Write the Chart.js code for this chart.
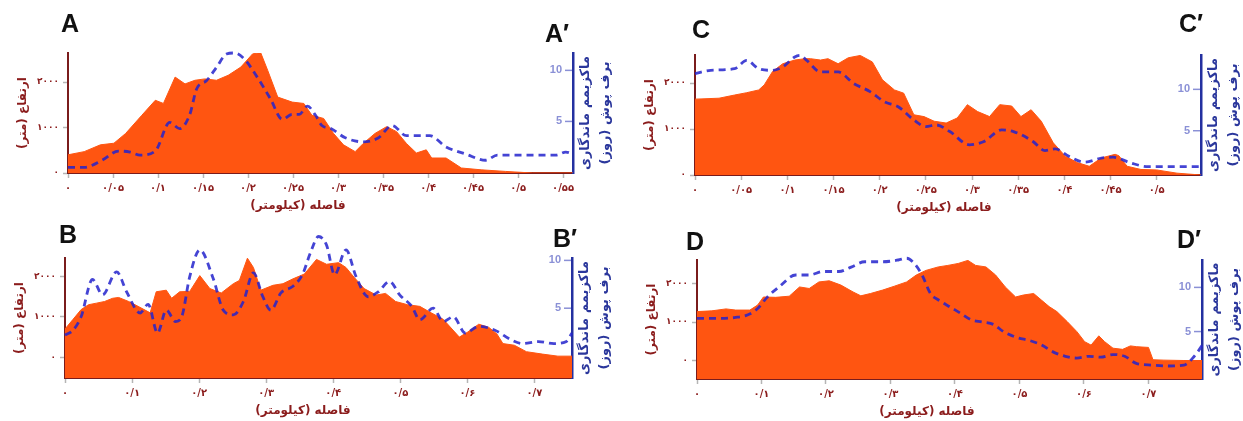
<!DOCTYPE html>
<html lang="fa">
<head>
<meta charset="utf-8">
<script src="https://cdn.jsdelivr.net/npm/chart.js@4.4.1/dist/chart.umd.min.js"></script>
<style>
  html, body { margin: 0; padding: 0; background: #fff; }
  body { width: 1243px; height: 421px; position: relative; overflow: hidden; }
  .panel { position: absolute; }
  .panel canvas { direction: rtl; }
  .tag { position: absolute; font: bold 25px "Liberation Sans", Arial, sans-serif; line-height: 25px; color: #111; }
</style>
</head>
<body>
<div class="panel" id="panelA"><canvas id="chartA"></canvas></div>
<div class="panel" id="panelC"><canvas id="chartC"></canvas></div>
<div class="panel" id="panelB"><canvas id="chartB"></canvas></div>
<div class="panel" id="panelD"><canvas id="chartD"></canvas></div>

<div class="tag" style="left:61px;top:11px">A</div>
<div class="tag" style="left:545px;top:21px">A′</div>
<div class="tag" style="left:692px;top:17px">C</div>
<div class="tag" style="left:1179px;top:11px">C′</div>
<div class="tag" style="left:59px;top:222px">B</div>
<div class="tag" style="left:553px;top:226px">B′</div>
<div class="tag" style="left:686px;top:229px">D</div>
<div class="tag" style="left:1177px;top:227px">D′</div>

<script>
// Axis titles
const xTitle = 'فاصله (کیلومتر)';
const elevTitle = 'ارتفاع (متر)';
const snowTitle = ['ماکزیمم ماندگاری', 'برف پوش (روز)'];

// Tick labels
const elevTicks = [0, 1000, 2000];
const snowTicks = [5, 10];
const xTicksA = [0, 0.05, 0.1, 0.15, 0.2, 0.25, 0.3, 0.35, 0.4, 0.45, 0.5, 0.55];
const xTicksC = [0, 0.05, 0.1, 0.15, 0.2, 0.25, 0.3, 0.35, 0.4, 0.45, 0.5];
const xTicksB = [0, 0.1, 0.2, 0.3, 0.4, 0.5, 0.6, 0.7];
const xTicksD = [0, 0.1, 0.2, 0.3, 0.4, 0.5, 0.6, 0.7];

// Profile A - A'
const elevDistA = [0, 0.018, 0.036, 0.051, 0.064, 0.082, 0.097, 0.106, 0.119, 0.130, 0.141, 0.152, 0.165, 0.178, 0.192, 0.205, 0.214, 0.222, 0.233, 0.249, 0.262, 0.271, 0.284, 0.295, 0.306, 0.319, 0.328, 0.341, 0.354, 0.365, 0.376, 0.387, 0.398, 0.404, 0.420, 0.437, 0.459, 0.486, 0.516, 0.561];
const elevA = [400, 470, 620, 655, 870, 1270, 1600, 1530, 2110, 1960, 2040, 2070, 2040, 2150, 2330, 2620, 2650, 2250, 1670, 1560, 1530, 1270, 1200, 870, 620, 470, 650, 870, 1020, 910, 650, 440, 510, 330, 330, 110, 70, 35, 0, 0];
const snowDistA = [0, 0.018, 0.038, 0.056, 0.069, 0.080, 0.097, 0.113, 0.124, 0.135, 0.143, 0.154, 0.165, 0.176, 0.185, 0.196, 0.209, 0.225, 0.238, 0.249, 0.257, 0.266, 0.275, 0.282, 0.292, 0.308, 0.328, 0.345, 0.360, 0.376, 0.402, 0.420, 0.442, 0.464, 0.477, 0.507, 0.542, 0.553, 0.561];
const snowA = [0.5, 0.5, 1.2, 2.1, 2.0, 1.7, 2.1, 4.9, 4.3, 5.6, 8.2, 9.0, 10.3, 11.6, 11.7, 11.1, 9.5, 7.2, 5.2, 5.7, 5.7, 6.5, 5.6, 4.6, 4.3, 3.4, 3.0, 3.4, 4.6, 3.6, 3.6, 2.5, 1.8, 1.2, 1.7, 1.7, 1.7, 2.0, 1.8];

// Profile C - C'
const elevDistC = [0, 0.026, 0.043, 0.056, 0.069, 0.075, 0.084, 0.095, 0.108, 0.119, 0.125, 0.136, 0.144, 0.155, 0.166, 0.179, 0.192, 0.203, 0.216, 0.226, 0.237, 0.248, 0.259, 0.272, 0.284, 0.295, 0.306, 0.319, 0.330, 0.343, 0.353, 0.364, 0.375, 0.388, 0.401, 0.414, 0.427, 0.440, 0.455, 0.459, 0.468, 0.483, 0.500, 0.522, 0.548];
const elevC = [1650, 1670, 1740, 1790, 1850, 1960, 2250, 2420, 2500, 2530, 2530, 2500, 2530, 2420, 2550, 2600, 2460, 2070, 1850, 1780, 1310, 1270, 1170, 1130, 1240, 1530, 1380, 1270, 1530, 1500, 1270, 1420, 1170, 700, 410, 270, 190, 370, 450, 420, 190, 120, 110, 40, 0];
const snowDistC = [0, 0.017, 0.043, 0.056, 0.069, 0.084, 0.095, 0.108, 0.114, 0.121, 0.136, 0.155, 0.172, 0.190, 0.205, 0.220, 0.237, 0.250, 0.261, 0.276, 0.297, 0.313, 0.332, 0.345, 0.366, 0.379, 0.390, 0.405, 0.422, 0.440, 0.453, 0.472, 0.491, 0.522, 0.548];
const snowC = [11.9, 12.3, 12.5, 13.5, 12.5, 12.3, 12.7, 13.9, 14.1, 13.5, 12.1, 12.1, 10.7, 9.7, 8.5, 7.9, 6.3, 5.5, 5.7, 4.9, 3.3, 3.7, 5.1, 4.9, 3.7, 2.6, 2.8, 1.9, 1.2, 1.7, 1.8, 1.1, 0.65, 0.65, 0.65];

// Profile B - B'
const elevDistB = [0, 0.012, 0.024, 0.035, 0.047, 0.059, 0.071, 0.080, 0.095, 0.109, 0.127, 0.136, 0.151, 0.159, 0.171, 0.186, 0.201, 0.216, 0.233, 0.251, 0.260, 0.272, 0.281, 0.292, 0.310, 0.325, 0.340, 0.357, 0.375, 0.390, 0.408, 0.419, 0.431, 0.446, 0.464, 0.478, 0.493, 0.511, 0.529, 0.546, 0.564, 0.588, 0.600, 0.617, 0.632, 0.644, 0.653, 0.670, 0.688, 0.712, 0.735, 0.756];
const elevB = [700, 940, 1180, 1300, 1340, 1380, 1460, 1480, 1380, 1260, 1100, 1620, 1660, 1460, 1620, 1630, 2020, 1700, 1590, 1820, 1900, 2450, 2220, 1660, 1780, 1820, 1940, 2060, 2420, 2300, 2340, 2220, 1980, 1700, 1540, 1580, 1380, 1300, 1260, 1100, 940, 500, 620, 820, 740, 580, 340, 300, 140, 80, 30, 30];
const snowDistB = [0, 0.012, 0.024, 0.041, 0.056, 0.077, 0.092, 0.112, 0.124, 0.138, 0.151, 0.165, 0.174, 0.186, 0.201, 0.221, 0.236, 0.251, 0.266, 0.281, 0.295, 0.307, 0.322, 0.340, 0.354, 0.366, 0.378, 0.390, 0.402, 0.419, 0.434, 0.452, 0.467, 0.484, 0.499, 0.517, 0.529, 0.549, 0.564, 0.579, 0.597, 0.617, 0.641, 0.665, 0.682, 0.706, 0.729, 0.747, 0.756];
const snowB = [2.2, 2.7, 4.1, 8.0, 6.4, 8.8, 6.7, 4.5, 5.4, 2.4, 4.8, 3.6, 4.1, 8.3, 11.1, 8.1, 4.8, 4.3, 5.7, 8.7, 6.2, 4.8, 6.6, 7.3, 8.5, 10.8, 12.5, 11.6, 8.5, 11.1, 8.3, 6.2, 6.7, 7.8, 6.4, 5.2, 3.8, 5.0, 3.6, 4.1, 2.4, 3.1, 2.7, 1.7, 1.3, 1.5, 1.3, 1.5, 2.4];

// Profile D - D'
const elevDistD = [0, 0.023, 0.045, 0.060, 0.082, 0.094, 0.103, 0.122, 0.143, 0.159, 0.174, 0.189, 0.205, 0.223, 0.242, 0.254, 0.269, 0.288, 0.306, 0.325, 0.340, 0.355, 0.374, 0.389, 0.405, 0.420, 0.432, 0.448, 0.463, 0.478, 0.494, 0.506, 0.522, 0.534, 0.546, 0.558, 0.574, 0.589, 0.601, 0.611, 0.623, 0.632, 0.645, 0.660, 0.672, 0.681, 0.690, 0.700, 0.707, 0.724, 0.755, 0.783];
const elevD = [1270, 1290, 1340, 1310, 1310, 1440, 1650, 1640, 1670, 1910, 1870, 2040, 2070, 1960, 1780, 1680, 1740, 1830, 1930, 2040, 2220, 2340, 2430, 2470, 2520, 2600, 2470, 2430, 2220, 1910, 1650, 1700, 1740, 1570, 1400, 1270, 1010, 750, 490, 400, 640, 490, 320, 290, 380, 360, 350, 340, 20, 10, 0, 0];
const snowDistD = [0, 0.036, 0.060, 0.079, 0.094, 0.109, 0.128, 0.153, 0.174, 0.196, 0.220, 0.239, 0.260, 0.288, 0.312, 0.325, 0.337, 0.349, 0.362, 0.374, 0.392, 0.408, 0.426, 0.442, 0.460, 0.475, 0.497, 0.515, 0.534, 0.552, 0.571, 0.589, 0.608, 0.626, 0.645, 0.663, 0.681, 0.706, 0.731, 0.755, 0.771, 0.783];
const snowD = [6.5, 6.5, 6.6, 6.9, 7.6, 8.9, 10.1, 11.4, 11.4, 11.8, 11.8, 12.3, 12.9, 12.9, 13.1, 13.3, 12.7, 11.4, 9.3, 8.6, 7.8, 7.1, 6.3, 6.1, 5.8, 5.0, 4.3, 4.0, 3.5, 2.7, 2.2, 2.0, 2.2, 2.1, 2.4, 2.2, 1.4, 1.2, 1.1, 1.2, 2.2, 3.4];

// Colours and fonts
const RED = '#8b1c1c';
const AXIS_RED = '#7a1c1c';
const BLUE = '#2b379c';
const LIGHT_BLUE = '#8a90d6';
const ORANGE = '#ff5511';
const FA_FONT = "'DejaVu Sans', sans-serif";
const faDigits = '۰۱۲۳۴۵۶۷۸۹';

Chart.defaults.font.family = FA_FONT;

function fa(v) {
    return String(+v.toFixed(3)).replace('.', '/').replace(/[0-9]/g, d => faDigits[d]);
}

function points(xs, ys) {
    return xs.map((x, i) => ({ x: x, y: ys[i] }));
}

// small inward tick marks on the right axis ("10 —")
const innerTicks = {
    id: 'innerTicks',
    afterDraw(chart) {
        const s = chart.scales.y2;
        const ctx = chart.ctx;
        ctx.save();
        ctx.strokeStyle = LIGHT_BLUE;
        ctx.lineWidth = 1.5;
        s.ticks.forEach(t => {
            const y = s.getPixelForValue(t.value);
            ctx.beginPath();
            ctx.moveTo(s.left - 8, y);
            ctx.lineTo(s.left - 1, y);
            ctx.stroke();
        });
        ctx.restore();
    }
};

// x title (off-centre in the original) and the right-hand titles, read top to bottom
function titlesPlugin(xTitleCenter) {
    return {
        id: 'panelTitles',
        afterDraw(chart) {
            const ctx = chart.ctx;
            const a = chart.chartArea;
            ctx.save();
            ctx.textAlign = 'center';
            ctx.textBaseline = 'middle';
            ctx.font = 'bold 12px ' + FA_FONT;
            ctx.fillStyle = RED;
            ctx.fillText(xTitle, xTitleCenter, a.bottom + 33);

            ctx.font = 'bold 13px ' + FA_FONT;
            ctx.fillStyle = BLUE;
            const cy = (a.top + a.bottom) / 2;
            [13, 33].forEach((dx, i) => {
                ctx.save();
                ctx.translate(a.right + dx, cy);
                ctx.rotate(-Math.PI / 2);
                ctx.fillText(snowTitle[i], 0, 0);
                ctx.restore();
            });
            ctx.restore();
        }
    };
}

function buildPanel(name, box, p) {
    const wrap = document.getElementById('panel' + name);
    Object.assign(wrap.style, {
        left: box.left + 'px', top: box.top + 'px',
        width: box.width + 'px', height: box.height + 'px'
    });

    new Chart(document.getElementById('chart' + name), {
        type: 'line',
        data: {
            datasets: [{
                // snow cover persistence (days)
                data: points(p.snowDist, p.snow),
                yAxisID: 'y2',
                borderColor: 'rgba(35, 35, 205, 0.85)',
                borderWidth: 2.8,
                borderDash: [7, 5],
                pointRadius: 0,
                fill: false,
                cubicInterpolationMode: 'monotone',
                clip: false
            }, {
                // elevation (m)
                data: points(p.elevDist, p.elev),
                yAxisID: 'y',
                backgroundColor: ORANGE,
                borderColor: ORANGE,
                borderWidth: 1,
                pointRadius: 0,
                tension: 0,
                fill: 'start'
            }]
        },
        options: {
            responsive: true,
            maintainAspectRatio: false,
            animation: false,
            layout: { padding: { top: 53, left: 0, right: 0, bottom: 0 } },
            plugins: { legend: { display: false }, tooltip: { enabled: false } },
            scales: {
                x: {
                    type: 'linear',
                    min: 0,
                    max: p.xMax,
                    afterBuildTicks: s => { s.ticks = p.xTicks.map(v => ({ value: v })); },
                    afterFit: s => { s.height = 52; s.paddingLeft = 0; s.paddingRight = 0; },
                    ticks: {
                        callback: v => fa(v),
                        color: RED,
                        font: { size: 10, weight: 'bold' },
                        padding: 4,
                        maxRotation: 0,
                        autoSkip: false
                    },
                    grid: { drawOnChartArea: false, tickLength: 5, color: '#b5b5b5', tickWidth: 1.5 },
                    border: { color: AXIS_RED, width: 2 }
                },
                y: {
                    position: 'left',
                    min: p.elevMin,
                    max: p.elevMax,
                    afterBuildTicks: s => { s.ticks = elevTicks.map(v => ({ value: v })); },
                    afterFit: s => { s.width = 68; },
                    ticks: {
                        callback: v => fa(v),
                        color: RED,
                        font: { size: 9, weight: 'bold' },
                        padding: 4
                    },
                    grid: { drawOnChartArea: false, tickLength: 5, color: '#b5b5b5', tickWidth: 1.5 },
                    border: { color: AXIS_RED, width: 2 },
                    title: {
                        display: true,
                        text: elevTitle,
                        color: RED,
                        font: { size: 12, weight: 'bold', lineHeight: 1.4 },
                        padding: { top: 14, bottom: 0 }
                    }
                },
                y2: {
                    position: 'right',
                    min: p.snowMin,
                    max: p.snowMax,
                    afterBuildTicks: s => { s.ticks = snowTicks.map(v => ({ value: v })); },
                    afterFit: s => { s.width = 48; },
                    ticks: {
                        mirror: true,
                        padding: -11,
                        color: LIGHT_BLUE,
                        font: { family: "'Liberation Sans', Arial, sans-serif", size: 11, weight: 'bold' }
                    },
                    grid: { display: false },
                    border: { color: '#2430a0', width: 2.5 }
                }
            }
        },
        plugins: [innerTicks, titlesPlugin(p.xTitleX - box.left)]
    });
}

buildPanel('A', { left: 0, top: 0, width: 621, height: 225 }, {
    elevDist: elevDistA, elev: elevA, snowDist: snowDistA, snow: snowA, xTicks: xTicksA,
    xMax: 0.561, elevMin: 0, elevMax: 2640, snowMin: -0.05, snowMax: 11.7, xTitleX: 298
});
buildPanel('C', { left: 627, top: 2, width: 622, height: 225 }, {
    elevDist: elevDistC, elev: elevC, snowDist: snowDistC, snow: snowC, xTicks: xTicksC,
    xMax: 0.548, elevMin: 0, elevMax: 2610, snowMin: -0.35, snowMax: 14.15, xTitleX: 944
});
buildPanel('B', { left: -3, top: 205, width: 623, height: 225 }, {
    elevDist: elevDistB, elev: elevB, snowDist: snowDistB, snow: snowB, xTicks: xTicksB,
    xMax: 0.756, elevMin: -510, elevMax: 2455, snowMin: -2.3, snowMax: 10.25, xTitleX: 303
});
buildPanel('D', { left: 629, top: 207, width: 621, height: 224 }, {
    elevDist: elevDistD, elev: elevD, snowDist: snowDistD, snow: snowD, xTicks: xTicksD,
    xMax: 0.783, elevMin: -480, elevMax: 2610, snowMin: -0.37, snowMax: 13.1, xTitleX: 927
});
</script>
</body>
</html>
